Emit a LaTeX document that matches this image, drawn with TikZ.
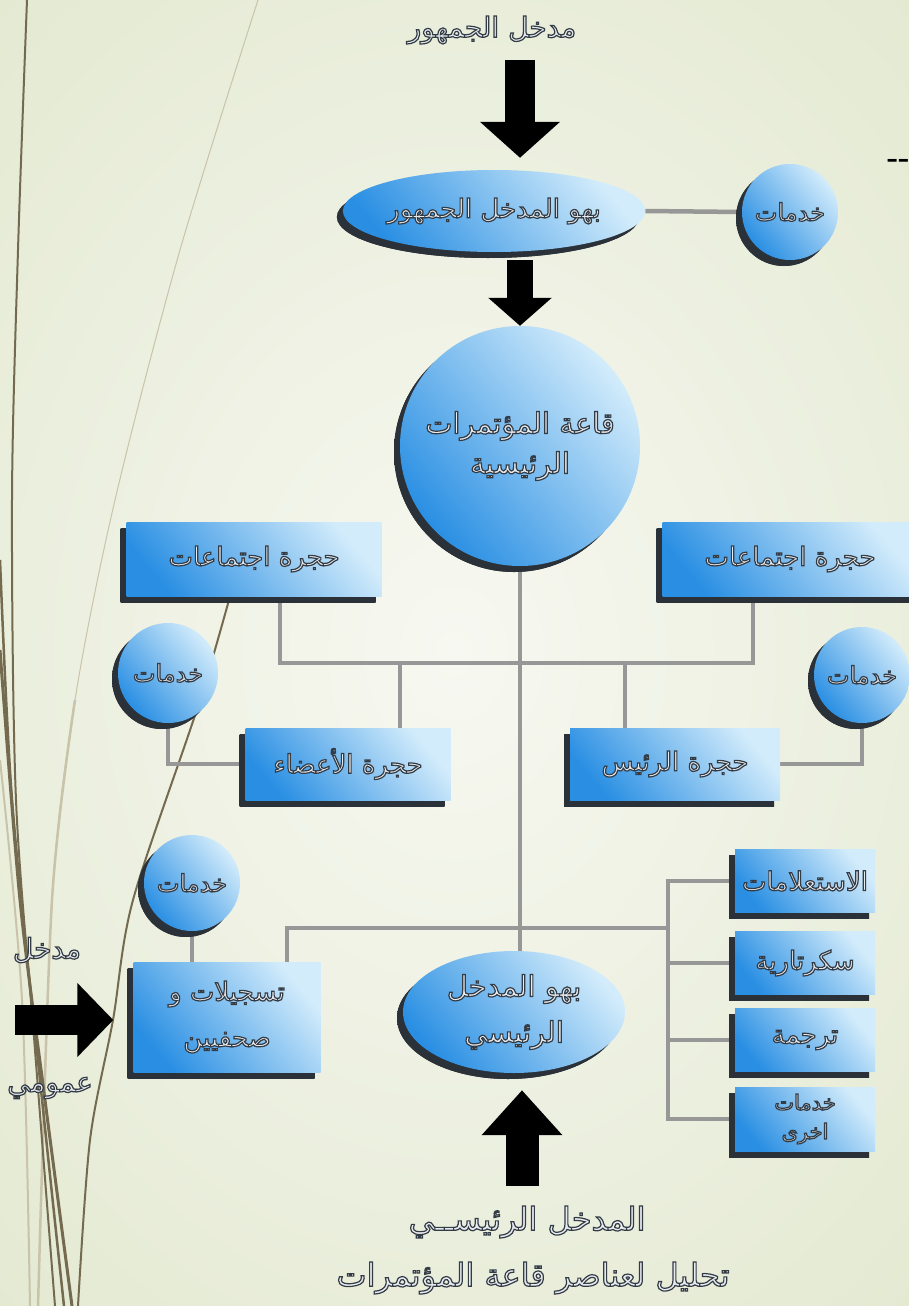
\documentclass[tikz,border=0pt]{standalone}
\usepackage{fontspec}
\TeXXeTstate=1
\newfontfamily\arabicfont[Script=Arabic]{DejaVu Sans}
\usetikzlibrary{shapes.geometric,shadows,arrows.meta,calc}
\pgfdeclarelayer{back}
\pgfdeclarelayer{links}
\pgfsetlayers{back,links,main}
\definecolor{bgA}{HTML}{F7F8F1}
\definecolor{bgB}{HTML}{E2E8CF}
\definecolor{blueD}{HTML}{2A8FE3}
\definecolor{blueL}{HTML}{D3ECFB}
\definecolor{shad}{HTML}{2B3138}
\definecolor{connC}{HTML}{979797}
\definecolor{txtF}{HTML}{E8ECF0}
\definecolor{brownL}{HTML}{746A4F}
\definecolor{tanL}{HTML}{C9C3AA}
\newcommand\emb{\special{pdf:literal direct 0.20 0.23 0.27 RG 1.2 w 2 Tr}}
\newcommand\unemb{\special{pdf:literal direct 0 Tr}}
\newcommand\ar[1]{\emb\beginR #1\endR\unemb}
\newcommand\fs[2]{\arabicfont\fontsize{#1}{#2}\selectfont}
\tikzset{
  lbl/.style={font=\fs{26}{40}, text=txtF, align=center, inner sep=0pt},
  bluefill/.style={top color=blueL, bottom color=blueD, shading angle=-50},
  sh/.style={drop shadow={shadow xshift=-6pt, shadow yshift=-6pt, top color=shad, bottom color=shad, fill=shad, opacity=1}},
  room/.style={rectangle, bluefill, sh, lbl},
  ball/.style={circle, bluefill, sh, lbl, font=\fs{24}{30}},
  oval/.style={ellipse, bluefill, sh, lbl},
  conn/.style={draw=connC, line width=4.5pt},
  blkarrow/.style n args={3}{draw=black, line width=#1, -{Triangle[width=#2, length=#3]}},
  deco/.style={draw=brownL, line width=#1},
}
\begin{document}
\begin{tikzpicture}[x=1pt, y=-1pt]
\useasboundingbox (0,0) rectangle (908,1306);
\begin{pgfonlayer}{back}
\shade[inner color=bgA, outer color=bgB] (-300,-300) rectangle (1208,1606);
\draw[draw=tanL, line width=1pt] plot[smooth] coordinates {(258,0) (180,250) (115,500) (75,700) (52,900) (38,1306)};
\draw[draw=tanL, line width=2.5pt] plot[smooth] coordinates {(75,700) (52,900) (38,1306)};
\draw[draw=tanL, line width=2pt] plot[smooth] coordinates {(0,760) (22,1000) (30,1306)};
\draw[deco=2pt] plot[smooth] coordinates {(27,0) (18,250) (12,500) (16,800) (35,1050) (55,1306)};
\draw[deco=3pt] plot[smooth] coordinates {(0,650) (20,900) (45,1100) (72,1306)};
\draw[deco=2.5pt] plot[smooth] coordinates {(0,560) (12,800) (40,1080) (64,1306)};
\draw[deco=2pt] plot[smooth] coordinates {(240,560) (200,700) (133,900) (113,1020) (90,1140) (78,1306)};
\end{pgfonlayer}

% nodes
\node[lbl, font=\fs{28}{30}] (t1) at (492,30) {\ar{مدخل الجمهور}};
\node[oval, minimum width=268pt, minimum height=82pt] (e1) at (494,211) {\ar{بهو المدخل الجمهور}};
\node[ball, minimum size=96pt] (s1) at (790,212) {\ar{خدمات}};
\node[anchor=east, font=\bfseries\fontsize{30}{30}\selectfont, inner sep=0pt] (dash) at (910,163) {-{}-};
\node[ball, minimum size=240pt, font=\fs{29}{40}] (hall) at (520,446) {\ar{قاعة المؤتمرات}\\\ar{الرئيسية}};
\node[room, minimum width=255pt, minimum height=74pt] (b1) at (254,559) {\ar{حجرة اجتماعات}};
\node[room, minimum width=255pt, minimum height=74pt] (b3) at (790,559) {\ar{حجرة اجتماعات}};
\node[ball, minimum size=100pt] (s2) at (168,673) {\ar{خدمات}};
\node[room, minimum width=205pt, minimum height=72pt] (b2) at (348,764) {\ar{حجرة الأعضاء}};
\node[ball, minimum size=96pt] (s3) at (862,675) {\ar{خدمات}};
\node[room, minimum width=210pt, minimum height=72pt] (b4) at (675,764) {\ar{حجرة الرئيس}};
\node[ball, minimum size=96pt] (s4) at (192,883) {\ar{خدمات}};
\node[room, minimum width=187pt, minimum height=110pt, font=\fs{26}{46}] (b5) at (227,1017) {\ar{تسجيلات و}\\\ar{صحفيين}};
\node[oval, minimum width=222pt, minimum height=122pt, font=\fs{29}{46}] (e2) at (514,1012) {\ar{بهو المدخل}\\\ar{الرئيسي}};
\node[room, minimum width=140pt, minimum height=63pt] (r1) at (805,881) {\ar{الاستعلامات}};
\node[room, minimum width=140pt, minimum height=63pt] (r2) at (805,963) {\ar{سكرتارية}};
\node[room, minimum width=140pt, minimum height=63pt] (r3) at (805,1040) {\ar{ترجمة}};
\node[room, minimum width=140pt, minimum height=64pt, font=\fs{21}{29}] (r4) at (805,1119) {\ar{خدمات}\\\ar{اخرى}};
\node[lbl, font=\fs{28}{30}] (la) at (47,950) {\ar{مدخل}};
\node[lbl, font=\fs{28}{30}] (lb) at (50,1088) {\ar{عمومي}};
\node[lbl, font=\fs{32}{36}] (bt1) at (527,1222) {\ar{المدخل الرئيســي}};
\node[lbl, font=\fs{32}{36}] (bt2) at (533,1278) {\ar{تحليل لعناصر قاعة المؤتمرات}};

\coordinate (bus1) at (518,663);
\coordinate (rail) at (668,928);
\coordinate (a1s) at (520,60);
\coordinate (a3s) at (522,1186);
\coordinate (a4s) at (15,1020);

\begin{pgfonlayer}{links}
\draw[conn] (e1.east) -- (s1.west);
\draw[conn] (hall.south) -- (hall.south |- e2.north);
\draw[conn] ([xshift=26pt]b1.south) |- (bus1) -| ([xshift=-37pt]b3.south);
\draw[conn] ([xshift=52pt]b2.north) -- ([xshift=52pt]b2.north |- bus1);
\draw[conn] ([xshift=-50pt]b4.north) -- ([xshift=-50pt]b4.north |- bus1);
\draw[conn] (s2.south) |- (b2.west);
\draw[conn] (s3.south) |- (b4.east);
\draw[conn] (s4.south) -- (s4.south |- b5.north);
\draw[conn] ([xshift=60pt]b5.north) |- (rail);
\draw[conn] (r1.west) -| (rail);
\draw[conn] (r4.west) -| (rail);
\draw[conn] (r2.west) -- (r2.west -| rail);
\draw[conn] (r3.west) -- (r3.west -| rail);
\end{pgfonlayer}

% block arrows
\draw[blkarrow={30pt}{78pt}{36pt}, shorten >=12pt] (a1s) -- (a1s |- e1.north);
\draw[blkarrow={26pt}{62pt}{28pt}, shorten <=8pt] ([xshift=26pt]e1.south) -- ([xshift=26pt]e1.south |- hall.north);
\draw[blkarrow={33pt}{78pt}{45pt}, shorten >=17pt] (a3s) -- (a3s |- e2.south);
\draw[blkarrow={30pt}{72pt}{36pt}, shorten >=20pt] (a4s) -- (a4s -| b5.west);
\end{tikzpicture}
\end{document}
